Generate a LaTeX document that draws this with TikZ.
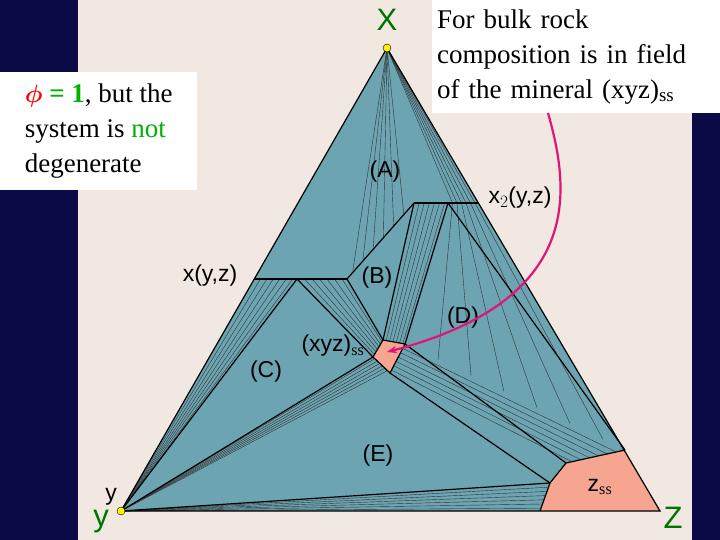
\documentclass[tikz,border=0pt]{standalone}
\usepackage{fontspec}
\usetikzlibrary{calc,arrows.meta}
\setmainfont{Liberation Serif}
\newfontfamily\arial{Liberation Sans}
\begin{document}
\begin{tikzpicture}[x=1pt,y=-1pt,
  lab/.style={font=\arial\fontsize{23}{24}\selectfont,inner sep=0pt},
  glab/.style={font=\arial\fontsize{31}{32}\selectfont,inner sep=0pt,text=green!45!black},
  bnd/.style={line width=1.2pt,black},
  fan/.style={line width=0.4pt,black!80},
  tbox/.style={fill=white,inner sep=5pt,align=left,font=\fontsize{27}{35}\selectfont,anchor=north west}]
\definecolor{navy}{RGB}{10,10,70}
\definecolor{beige}{RGB}{240,232,225}
\definecolor{teal}{RGB}{108,164,178}
\definecolor{salmon}{RGB}{246,166,144}
\definecolor{mag}{RGB}{225,20,120}
\useasboundingbox (0,0) rectangle (720,540);
\fill[navy] (0,0) rectangle (720,540);
\fill[beige] (78,0) rectangle (692,540);
% triangle
\coordinate (X) at (387,48); \coordinate (Y) at (121,511); \coordinate (Z) at (660,511);
\fill[teal] (X)--(Y)--(Z)--cycle;
\fill[salmon] (540,511)--(550,483)--(566,463)--(625,450)--(Z)--cycle;
\fill[salmon] (383,340)--(405,344)--(390,373)--(373,357)--cycle;
% fan lines
\foreach \t in {0.15,0.3,0.45,0.6,0.75,0.9}{
  \draw[fan] (X) -- ($(414,203)!\t!(346,278)$);
  \draw[fan] ($(414,203)!\t!(448,203)$) -- ($(383,340)!\t!(405,344)$);
  \draw[fan] ($(297,279)!\t!(347,279)$) -- ($(373,357)!\t!(383,340)$);
  \draw[fan] (Y) -- ($(390,373)!\t!(373,357)$);
  \draw[fan] (Y) -- ($(550,483)!\t!(540,511)$);
  \draw[fan] ($(405,344)!\t!(390,373)$) -- ($(625,450)!\t!(566,463)$);
  \draw[fan] (X) -- ($(448,203)!\t!(478,203)$);
  \draw[fan] ($(448,203)!\t!(478,203)$) -- ($(405,344)!\t!(625,450)$);
  \draw[fan] (Y) -- ($(254,279)!\t!(297,279)$);
}
% boundaries
\draw[bnd] (X)--(Y)--(Z)--cycle;
\draw[bnd] (414,203)--(478,203);
\draw[bnd] (254,279)--(347,279);
\draw[bnd] (414,203)--(347,279);
\draw[bnd] (414,203)--(383,340);
\draw[bnd] (448,203)--(405,344);
\draw[bnd] (448,203)--(625,450);
\draw[bnd] (297,279)--(373,357);
\draw[bnd] (347,279)--(383,340);
\draw[bnd] (297,279)--(Y);
\draw[bnd] (Y)--(373,357);
\draw[bnd] (390,373)--(550,483);
\draw[bnd] (405,344)--(566,463);
\draw[bnd] (Y)--(550,483);
\draw[bnd] (540,511)--(550,483)--(566,463)--(625,450);
\draw[bnd] (383,340)--(405,344)--(390,373)--(373,357)--cycle;
% vertices
\fill[yellow] (X) circle (4); \draw (X) circle (4);
\fill[yellow] (Y) circle (4); \draw (Y) circle (4);
% labels
\node[glab] (lx) at (387,20) {X};
\node[glab] (lz) at (673,518) {Z};
\node[glab] (ly) at (101,522) {y};
\node[lab] (ly2) at (111,497) {y};
\node[lab] (lA) at (385,172) {(A)};
\node[lab] (lB) at (377,278) {(B)};
\node[lab] (lC) at (266,372) {(C)};
\node[lab] (lD) at (463,318) {(D)};
\node[lab] (lE) at (378,456) {(E)};
\node[lab] (lx2) at (520,198) {x$_2$(y,z)};
\node[lab] (lxyz) at (210,276) {x(y,z)};
\node[lab] (lss) at (333,346) {(xyz)$_{\mathrm{ss}}$};
\node[lab] (lzss) at (600,487) {z$_{\mathrm{ss}}$};
% text boxes
\node[tbox,minimum width=197pt,minimum height=118pt] (b1) at (0,72)
 {\textcolor{red}{\boldmath$\phi$} \textcolor{green!70!black}{\textbf{= 1}}, but the\\system is \textcolor{green!70!black}{not}\\degenerate};
\node[tbox,minimum width=288pt,minimum height=113pt,text width=278pt] (b2) at (432,0)
 {For bulk rock\\composition is in field\\of the mineral (xyz)\textsubscript{ss}};
\coordinate (a0) at (548,113);
\coordinate (a1) at (387,352);
\draw[mag,line width=2.2pt,-{Stealth[length=10pt]}] (a0) .. controls (570,190) and (585,300) .. (a1);
\end{tikzpicture}
\end{document}
